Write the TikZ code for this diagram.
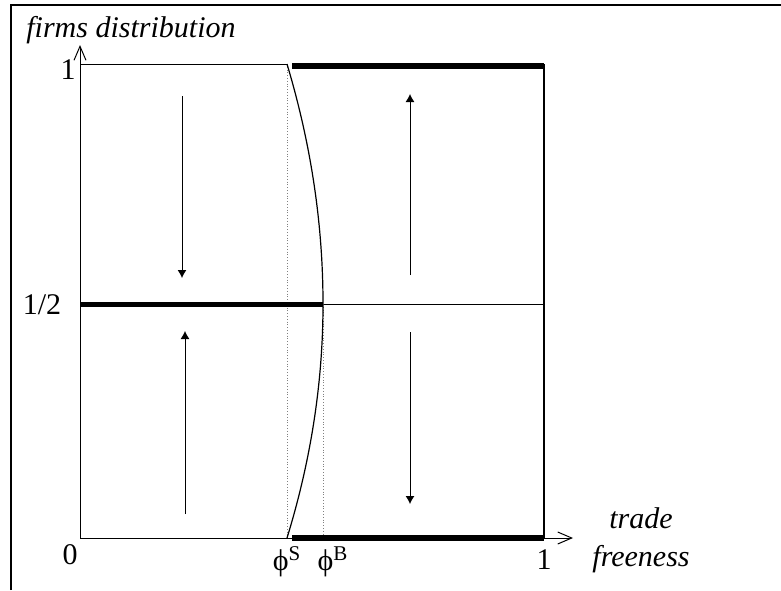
\documentclass[tikz,border=0pt]{standalone}
\usepackage{fontspec}
\setmainfont{Liberation Serif}
\usetikzlibrary{arrows.meta}

\begin{document}
\begin{tikzpicture}[x=0.5pt,y=-0.5pt,>={Straight Barb[length=7pt,width=6pt]},
  lbl/.style={font=\fontsize{15}{17}\selectfont,inner sep=0pt},
  ital/.style={font=\fontsize{15}{19}\selectfont\itshape,inner sep=0pt,align=center},
  flow/.style={line width=0.5pt,-{Latex[length=4pt,width=4.5pt]}}]
\useasboundingbox (0,0) rectangle (781,590);
% frame
\draw[line width=1pt] (11,590)--(11,5)--(781,5);
% axes
\draw[line width=0.5pt,->] (80,538)--(80,45);
\draw[line width=0.5pt,->] (80,538)--(573,538);
% box
\draw[line width=0.5pt] (80,64)--(287,64);
\draw[line width=1pt] (544,64)--(544,538);
\draw[line width=0.5pt] (323,304)--(544,304);
% guide lines
\draw[gray,densely dotted,line width=0.4pt] (287,64)--(287,538) (323,304)--(323,538);
% stable branches
\draw[line width=2.8pt] (292,66)--(544,66);
\draw[line width=2.8pt] (80,304.5)--(323,304.5);
\draw[line width=2.8pt] (292,538)--(544,538);
% unstable branch
\draw[line width=0.6pt] (287,64) .. controls (311,144) and (323,224) .. (323,304)
  .. controls (323,382) and (311,460) .. (287,538);
% directions
\draw[flow] (182,96)--(182,278);
\draw[flow] (185,514)--(185,331);
\draw[flow] (410,275)--(410,94);
\draw[flow] (410,332)--(410,504);
% labels
\node[ital] (ylab) at (131,30) {firms distribution};
\node[ital] (xlab) at (641,540) {trade\\freeness};
\node[lbl] (yone) at (68,70) {1};
\node[lbl] (yhalf) at (42,305) {1/2};
\node[lbl] (orig) at (70,555) {0};
\node[lbl] (xone) at (544,560) {1};
\node[lbl] (phis) at (287,562) {ϕ\textsuperscript{S}};
\node[lbl] (phib) at (333,562) {ϕ\textsuperscript{B}};
\end{tikzpicture}
\end{document}
